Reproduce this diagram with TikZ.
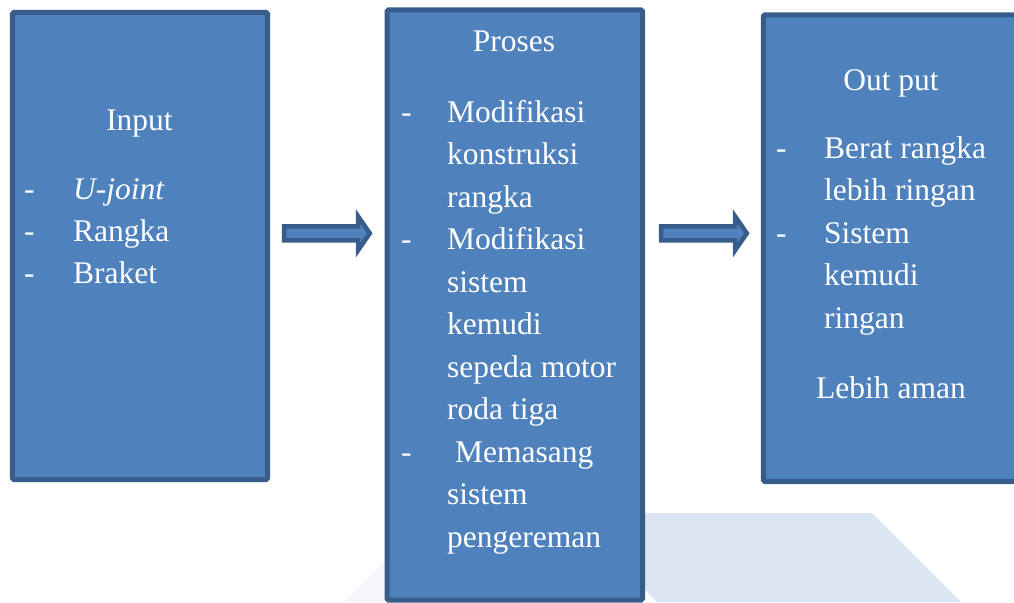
\documentclass[tikz,border=0pt]{standalone}
\usepackage{fontspec}
\setmainfont{Liberation Serif}
\definecolor{boxfill}{RGB}{79,129,189}
\definecolor{boxline}{RGB}{56,93,138}
\definecolor{wmark}{RGB}{220,227,241}
\definecolor{wmarklight}{RGB}{246,247,250}
\tikzset{
  panel/.style={draw=boxline, fill=boxfill, line width=5pt, rounded corners=1.5pt,
    inner sep=0pt, outer sep=0pt, anchor=north west},
  blockarrow/.style={draw=boxline, fill=boxfill, line width=4.5pt, line join=miter},
  txt/.style={text=white, font=\fontsize{31.5}{40}\selectfont, inner sep=0pt, anchor=base west},
  ctxt/.style={txt, anchor=base},
}
\begin{document}
\begin{tikzpicture}[x=1pt,y=-1pt]
\useasboundingbox (0,0) rectangle (1014,602);
% faint background emblem
\fill[wmarklight] (343,602) -- (425,520) -- (520,602) -- cycle;
\fill[wmark] (568,513) -- (872,513) -- (961,602) -- (657,602) -- cycle;

% the three panels
\node[panel, minimum width=255.2pt, minimum height=467pt] (inbox) at (12.3,12.5) {};
\node[panel, minimum width=255.5pt, minimum height=590pt] (procbox) at (387,10) {};
\node[panel, minimum width=270pt, minimum height=466.7pt] (outbox) at (763.3,14.8) {};

% block arrows between the panels
\draw[blockarrow] (284.2,226.3) -- (358.2,226.3) -- (358.2,216.5) -- (369.8,233.3)
  -- (358.2,250.1) -- (358.2,240.3) -- (284.2,240.3) -- cycle;
\draw[blockarrow] (661.2,226.3) -- (735.2,226.3) -- (735.2,216.5) -- (746.8,233.3)
  -- (735.2,250.1) -- (735.2,240.3) -- (661.2,240.3) -- cycle;

% Input
\node[ctxt] (intitle) at (139.5,130) {Input};
\node[txt] (ind1) at (24,199) {-};
\node[txt] (ind2) at (24,241) {-};
\node[txt] (ind3) at (24,283) {-};
\node[txt] (ini1) at (73,199) {\itshape U-joint};
\node[txt] (ini2) at (73,241) {Rangka};
\node[txt] (ini3) at (73,283) {Braket};

% Proses
\node[ctxt] (prtitle) at (514,52) {Proses};
\node[txt] (prd1) at (401,122) {-};
\node[txt] (prd2) at (401,249.5) {-};
\node[txt] (prd3) at (401,462) {-};
\node[txt] (prl1) at (447,122) {Modifikasi};
\node[txt] (prl2) at (447,164.5) {konstruksi};
\node[txt] (prl3) at (447,207) {rangka};
\node[txt] (prl4) at (447,249.5) {Modifikasi};
\node[txt] (prl5) at (447,292) {sistem};
\node[txt] (prl6) at (447,334.5) {kemudi};
\node[txt] (prl7) at (447,377) {sepeda motor};
\node[txt] (prl8) at (447,419.5) {roda tiga};
\node[txt] (prl9) at (455,462) {Memasang};
\node[txt] (prl10) at (447,504.5) {sistem};
\node[txt] (prl11) at (447,547) {pengereman};

% Out put
\node[ctxt] (outitle) at (891,90) {Out put};
\node[txt] (oud1) at (776,158) {-};
\node[txt] (oud2) at (776,243) {-};
\node[txt] (oul1) at (824,158) {Berat rangka};
\node[txt] (oul2) at (824,200.5) {lebih ringan};
\node[txt] (oul3) at (824,243) {Sistem};
\node[txt] (oul4) at (824,285.5) {kemudi};
\node[txt] (oul5) at (824,328) {ringan};
\node[ctxt] (oul6) at (891,398) {Lebih aman};
\end{tikzpicture}
\end{document}
